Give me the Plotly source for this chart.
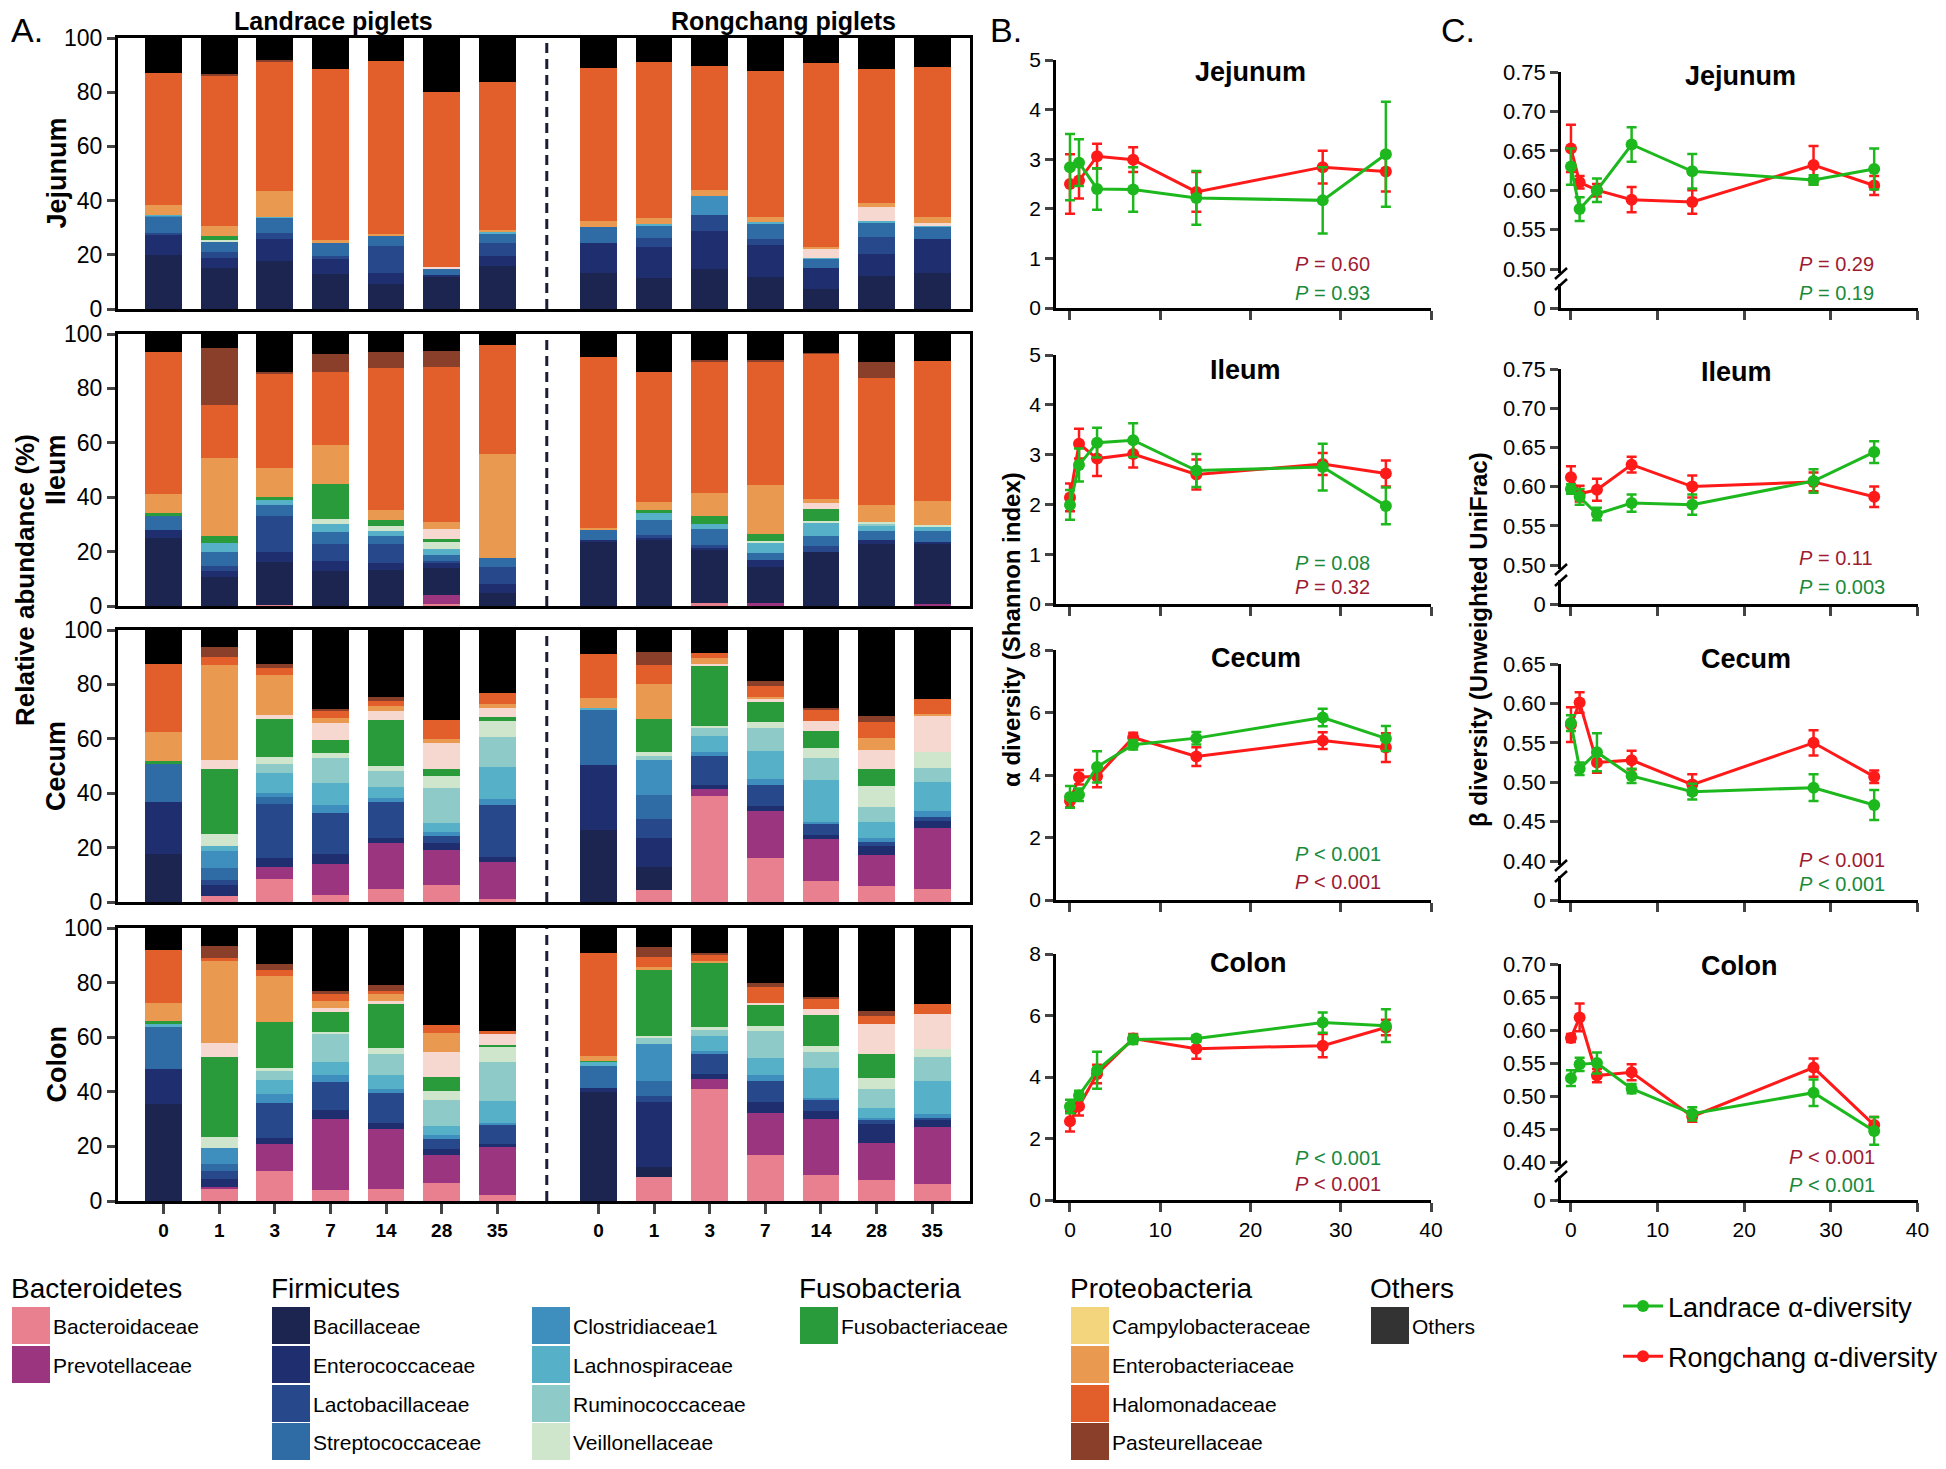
import plotly.graph_objects as go

W, H = 1946, 1469
OFF = 8  # the page body adds an 8 px margin round the figure
FONT = "Arial, Liberation Sans, sans-serif"

days = ["0", "1", "3", "7", "14", "28", "35"]
day_nums = [0, 1, 3, 7, 14, 28, 35]
organs = ["Jejunum", "Ileum", "Cecum", "Colon"]

families = ["Bacteroidaceae", "Prevotellaceae", "Bacillaceae", "Enterococcaceae",
            "Lactobacillaceae", "Streptococcaceae", "Clostridiaceae1", "Lachnospiraceae",
            "Ruminococcaceae", "Veillonellaceae", "Fusobacteriaceae", "Campylobacteraceae",
            "Enterobacteriaceae", "Halomonadaceae", "Pasteurellaceae", "Others"]
bar_colors = ["#E8808F", "#9B3580", "#1B2550", "#1F2E6E", "#27498C", "#2F6BA5",
              "#3E8FBE", "#55B0C8", "#8ECBC8", "#D0E6CC", "#2A9B3A", "#F6D8D0",
              "#E99A50", "#E25F2C", "#8A3F2A", "#000000"]
legend_colors = ["#E8808F", "#9B3580", "#1B2550", "#1F2E6E", "#27498C", "#2F6BA5",
                 "#3E8FBE", "#55B0C8", "#8ECBC8", "#D0E6CC", "#2A9B3A", "#F2D57C",
                 "#E99A50", "#E25F2C", "#8A3F2A", "#333333"]

# relative abundance (%), 7 Landrace days then 7 Rongchang days
jejunum = {
    "Bacteroidaceae": [0] * 14,
    "Prevotellaceae": [0] * 14,
    "Bacillaceae": [20, 15.3, 17.8, 12.9, 9.2, 11.9, 16, 13.4, 11.4, 14.9, 11.8, 7.4, 12.1, 13.4],
    "Enterococcaceae": [7.5, 3.7, 8, 5.5, 4.1, 0.7, 3.6, 11, 11.5, 13.8, 11.7, 7.7, 8.3, 12.3],
    "Lactobacillaceae": [0.5, 2.2, 2.1, 1.2, 10, 0, 4.6, 0, 3.3, 6, 2.5, 0, 6.2, 0],
    "Streptococcaceae": [6, 3.8, 5.9, 4.6, 3.7, 2.5, 3.4, 5.8, 4.5, 0, 5.7, 3.5, 5.3, 4.6],
    "Clostridiaceae1": [0.5, 0, 0, 0, 0, 0, 0, 0, 0, 7, 0, 0, 0, 0],
    "Lachnospiraceae": [0.3, 0, 0.3, 0, 0, 0, 0.9, 0, 0.7, 0, 0.5, 0.2, 0.5, 0.5],
    "Ruminococcaceae": [0] * 14,
    "Veillonellaceae": [0, 0.5, 0, 0, 0, 0, 0, 0, 0, 0, 0, 0, 0, 0],
    "Fusobacteriaceae": [0, 1.4, 0, 0, 0, 0, 0, 0, 0, 0, 0, 0, 0, 0],
    "Campylobacteraceae": [0, 0, 0, 0, 0, 0.5, 0, 0, 0, 0, 0, 3.2, 5.1, 1.0],
    "Enterobacteriaceae": [3.7, 3.7, 9.3, 1.1, 0.6, 0, 0.8, 2.2, 2.3, 2.2, 1.8, 0.9, 1.7, 2.1],
    "Halomonadaceae": [48.7, 55.7, 48.1, 63.4, 63.8, 64.6, 54.5, 56.7, 57.5, 45.8, 53.9, 67.7, 49.5, 55.5],
    "Pasteurellaceae": [0, 0.6, 0.4, 0, 0, 0, 0, 0, 0, 0, 0, 0, 0, 0],
    "Others": [12.8, 13.1, 8.1, 11.3, 8.6, 19.8, 16.2, 10.9, 8.8, 10.3, 12.1, 9.4, 11.3, 10.6],
}
ileum = {
    "Bacteroidaceae": [0, 0, 0.4, 0, 0, 0.7, 0, 0, 0, 1.1, 0, 0, 0, 0],
    "Prevotellaceae": [0, 0, 0, 0, 0, 3.4, 0, 0, 0, 0, 1.2, 0, 0, 0.9],
    "Bacillaceae": [25, 10.8, 15.6, 12.7, 13.3, 10.0, 4.7, 23.4, 24.5, 19.5, 13.3, 20.0, 22.9, 21.9],
    "Enterococcaceae": [3, 2.1, 3.7, 3.7, 2.4, 1.6, 3.4, 1.0, 0.5, 0.9, 2.4, 0, 1.2, 0.9],
    "Lactobacillaceae": [0, 1.9, 13.3, 6.5, 7.2, 1.0, 6.4, 0, 1.2, 1.0, 0, 1.9, 0, 0],
    "Streptococcaceae": [5.2, 5.0, 4.3, 4.3, 2.7, 2.1, 3.1, 3.7, 5.3, 5.8, 2.5, 3.7, 3.6, 3.7],
    "Clostridiaceae1": [0] * 14,
    "Lachnospiraceae": [0, 3.3, 1.8, 3.1, 1.8, 2.1, 0, 0, 2.7, 2.0, 4.0, 5.2, 1.6, 1.9],
    "Ruminococcaceae": [0, 0, 0, 0, 0, 0, 0, 0, 0, 0, 0, 0, 0.9, 0],
    "Veillonellaceae": [0, 0, 0, 1.7, 2.1, 2.6, 0, 0, 0, 0, 0.4, 0.6, 0.7, 0.6],
    "Fusobacteriaceae": [0.9, 2.5, 1.0, 12.7, 2.2, 1.2, 0, 0, 1.0, 2.7, 2.8, 4.1, 0, 0],
    "Campylobacteraceae": [0, 0, 0, 0, 0, 3.6, 0, 0, 0, 0, 0, 2.4, 0, 0],
    "Enterobacteriaceae": [7.2, 28.9, 10.5, 14.5, 3.7, 2.7, 38.2, 0.6, 3.0, 8.4, 18.0, 1.5, 6.2, 8.8],
    "Halomonadaceae": [52.2, 19.3, 34.6, 27, 52.1, 56.7, 40.1, 63.0, 48.0, 48.5, 45.4, 53.3, 46.9, 51.4],
    "Pasteurellaceae": [0, 21.0, 1.0, 6.4, 6.0, 5.9, 0, 0, 0, 0.6, 0.6, 0.5, 5.6, 0],
    "Others": [6.5, 5.2, 13.8, 7.4, 6.5, 6.4, 4.1, 8.3, 13.8, 9.5, 9.4, 6.8, 10.4, 9.9],
}
cecum = {
    "Bacteroidaceae": [0, 2.1, 8.5, 2.7, 4.6, 6.2, 1.1, 0, 4.3, 39.1, 16.3, 7.8, 6.0, 4.7],
    "Prevotellaceae": [0, 0, 4.4, 11.1, 17.0, 12.9, 13.6, 0, 0, 2.6, 17.2, 15.2, 11.1, 22.6],
    "Bacillaceae": [17.5, 0, 0, 0, 0, 0, 0, 26.5, 8.5, 0, 0, 0, 0, 0],
    "Enterococcaceae": [19.3, 4.3, 3.4, 3.7, 1.9, 2.7, 1.9, 23.8, 10.8, 1.2, 1.9, 1.6, 3.4, 2.3],
    "Lactobacillaceae": [0, 1.6, 19.7, 15.4, 13.3, 2.5, 19.0, 0, 6.8, 10.6, 7.6, 3.9, 1.6, 1.5],
    "Streptococcaceae": [14.3, 4.6, 2.7, 0, 0, 0, 0, 20.3, 8.9, 0, 0, 0, 0, 0],
    "Clostridiaceae1": [0, 6.1, 1.2, 2.7, 1.3, 1.6, 2.2, 0, 13.0, 1.8, 2.1, 0.8, 1.3, 2.2],
    "Lachnospiraceae": [0, 1.9, 7.5, 8.1, 4.0, 3.0, 12.0, 0.6, 0, 5.7, 10.6, 15.5, 5.9, 10.8],
    "Ruminococcaceae": [0, 0, 3.3, 9.3, 5.9, 13.0, 10.8, 0, 1.5, 3.0, 8.3, 8.0, 5.6, 5.3],
    "Veillonellaceae": [0, 4.3, 2.5, 1.8, 2.1, 4.3, 5.8, 0, 1.2, 0.7, 2.2, 3.7, 7.7, 5.9],
    "Fusobacteriaceae": [0.6, 24.0, 13.9, 4.6, 16.9, 2.7, 1.6, 0, 12.1, 22.4, 7.5, 6.4, 6.2, 0],
    "Campylobacteraceae": [0, 3.3, 1.7, 6.5, 3.1, 9.5, 3.3, 0, 0, 0.5, 0.8, 3.6, 7.2, 13.4],
    "Enterobacteriaceae": [10.7, 35.1, 14.6, 1.8, 1.8, 1.6, 1.4, 3.7, 13.1, 2.2, 1.0, 0, 4.4, 0.5],
    "Halomonadaceae": [25.0, 2.8, 2.7, 2.5, 2.0, 7.0, 4.3, 16.2, 6.9, 1.9, 3.8, 4.1, 5.8, 5.3],
    "Pasteurellaceae": [0, 3.5, 1.3, 0.9, 1.5, 0, 0, 0, 4.9, 0, 1.8, 0.9, 2.1, 0],
    "Others": [12.6, 6.4, 12.6, 28.9, 24.6, 33.0, 23.0, 8.9, 8.0, 8.3, 18.9, 28.5, 31.7, 25.5],
}
colon = {
    "Bacteroidaceae": [0, 4.3, 11.1, 4.1, 4.3, 6.5, 2.2, 0, 8.7, 41.2, 16.8, 9.7, 7.7, 6.2],
    "Prevotellaceae": [0, 1.0, 9.9, 25.9, 22.0, 10.3, 17.7, 0, 0, 3.5, 15.5, 20.4, 13.4, 20.8],
    "Bacillaceae": [35.5, 0, 0, 0, 0, 0, 0, 39.8, 3.7, 0, 0, 0, 0, 0],
    "Enterococcaceae": [13.0, 2.7, 2.2, 3.3, 2.4, 2.4, 1.1, 1.6, 23.9, 1.9, 4.1, 2.8, 7.1, 2.5],
    "Lactobacillaceae": [0, 2.9, 12.7, 10.2, 10.8, 3.4, 7.1, 0, 2.2, 7.2, 7.7, 4.4, 1.4, 0.9],
    "Streptococcaceae": [15.6, 2.8, 0, 0, 0, 0, 0, 8.0, 5.4, 0, 0, 0, 0, 0],
    "Clostridiaceae1": [0, 5.8, 3.3, 2.5, 1.6, 1.4, 0.6, 0, 13.5, 1.1, 1.9, 0.6, 0.8, 1.6],
    "Lachnospiraceae": [0.6, 0, 5.2, 4.9, 4.9, 3.3, 8.0, 1.7, 0, 5.6, 6.5, 10.8, 3.5, 11.9],
    "Ruminococcaceae": [0, 0, 3.3, 10.5, 7.8, 9.7, 14.2, 0, 2.2, 2.0, 9.6, 5.7, 7.1, 8.9],
    "Veillonellaceae": [0, 3.9, 1.0, 0.6, 2.3, 3.4, 5.8, 0, 1.0, 1.1, 2.0, 2.4, 4.1, 2.7],
    "Fusobacteriaceae": [1.3, 29.4, 17.0, 7.2, 16.0, 5.2, 0.4, 0.3, 24.1, 23.8, 7.6, 11.2, 8.6, 0],
    "Campylobacteraceae": [0, 5.1, 0, 1.5, 1.0, 8.8, 3.9, 0, 0, 0, 1.0, 2.4, 11.1, 13.1],
    "Enterobacteriaceae": [6.5, 30.0, 16.8, 2.7, 2.7, 7.3, 0, 1.8, 1.0, 0.4, 0, 0, 0, 0],
    "Halomonadaceae": [19.4, 1.2, 2.2, 2.4, 1.0, 2.8, 1.4, 37.7, 3.7, 2.3, 5.6, 3.8, 2.9, 3.7],
    "Pasteurellaceae": [0, 4.4, 2.0, 1.3, 2.5, 0, 0, 0, 3.6, 0.9, 1.5, 0.6, 1.9, 0],
    "Others": [8.1, 6.5, 13.3, 22.9, 20.7, 35.5, 37.6, 9.1, 7.0, 9.0, 20.2, 25.2, 30.4, 27.7],
}

# alpha diversity (Shannon), mean and error
alpha_jej_rc = [2.50, 2.57, 3.06, 2.99, 2.34, 2.84, 2.75]
alpha_jej_rc_err = [0.6, 0.36, 0.25, 0.25, 0.4, 0.33, 0.4]
alpha_jej_ld = [2.84, 2.93, 2.40, 2.39, 2.22, 2.17, 3.10]
alpha_jej_ld_err = [0.67, 0.47, 0.42, 0.45, 0.54, 0.67, 1.06]
alpha_ile_rc = [2.14, 3.22, 2.92, 3.01, 2.60, 2.81, 2.62]
alpha_ile_rc_err = [0.28, 0.3, 0.35, 0.27, 0.3, 0.22, 0.26]
alpha_ile_ld = [1.99, 2.79, 3.24, 3.29, 2.68, 2.75, 1.97]
alpha_ile_ld_err = [0.3, 0.33, 0.3, 0.34, 0.33, 0.47, 0.37]
alpha_cec_rc = [3.17, 3.93, 3.96, 5.2, 4.59, 5.10, 4.88]
alpha_cec_rc_err = [0.2, 0.23, 0.35, 0.15, 0.3, 0.27, 0.46]
alpha_cec_ld = [3.30, 3.37, 4.26, 4.97, 5.18, 5.84, 5.17]
alpha_cec_ld_err = [0.35, 0.2, 0.5, 0.15, 0.2, 0.28, 0.4]
alpha_col_rc = [2.56, 3.05, 4.10, 5.25, 4.92, 5.02, 5.61]
alpha_col_rc_err = [0.33, 0.3, 0.3, 0.15, 0.33, 0.38, 0.25]
alpha_col_ld = [3.04, 3.40, 4.22, 5.22, 5.25, 5.77, 5.67]
alpha_col_ld_err = [0.22, 0.15, 0.6, 0.15, 0.1, 0.33, 0.53]

# beta diversity (unweighted UniFrac)
beta_jej_rc = [0.653, 0.610, 0.600, 0.588, 0.585, 0.632, 0.606]
beta_jej_rc_err = [0.03, 0.008, 0.008, 0.016, 0.015, 0.024, 0.012]
beta_jej_ld = [0.630, 0.576, 0.600, 0.658, 0.624, 0.613, 0.627]
beta_jej_ld_err = [0.023, 0.015, 0.015, 0.022, 0.022, 0.006, 0.026]
beta_ile_rc = [0.612, 0.591, 0.596, 0.628, 0.600, 0.606, 0.587]
beta_ile_rc_err = [0.014, 0.01, 0.014, 0.01, 0.014, 0.012, 0.013]
beta_ile_ld = [0.597, 0.587, 0.565, 0.579, 0.577, 0.607, 0.644]
beta_ile_ld_err = [0.006, 0.01, 0.008, 0.011, 0.013, 0.015, 0.014]
beta_cec_rc = [0.573, 0.601, 0.525, 0.528, 0.497, 0.550, 0.507]
beta_cec_rc_err = [0.022, 0.013, 0.013, 0.012, 0.013, 0.016, 0.008]
beta_cec_ld = [0.575, 0.517, 0.538, 0.508, 0.488, 0.493, 0.471]
beta_cec_ld_err = [0.01, 0.008, 0.024, 0.009, 0.01, 0.017, 0.019]
beta_col_rc = [0.588, 0.619, 0.531, 0.536, 0.469, 0.543, 0.456]
beta_col_rc_err = [0.006, 0.021, 0.01, 0.012, 0.008, 0.014, 0.012]
beta_col_ld = [0.527, 0.548, 0.550, 0.511, 0.473, 0.505, 0.447]
beta_col_ld_err = [0.012, 0.01, 0.016, 0.007, 0.01, 0.02, 0.021]

alpha_p = [("<i>P</i> = 0.60", "<i>P</i> = 0.93"), ("<i>P</i> = 0.32", "<i>P</i> = 0.08"),
           ("<i>P</i> < 0.001", "<i>P</i> < 0.001"), ("<i>P</i> < 0.001", "<i>P</i> < 0.001")]
beta_p = [("<i>P</i> = 0.29", "<i>P</i> = 0.19"), ("<i>P</i> = 0.11", "<i>P</i> = 0.003"),
          ("<i>P</i> < 0.001", "<i>P</i> < 0.001"), ("<i>P</i> < 0.001", "<i>P</i> < 0.001")]

RED = "#FF1A1A"
GREEN = "#1DB81D"
P_RED = "#9E1B32"
P_GREEN = "#1A8A3A"

FW, FH = W - 2 * OFF, H - 2 * OFF


def fx(p):
    return (p - OFF) / FW


def fy(p):
    return 1 - (p - OFF) / FH


def ax(n):
    return "" if n == 1 else str(n)


fig = go.Figure()
layout = {}
shapes = []
annotations = []


def note(text, x, y, size, xanchor="center", color="black", angle=0):
    annotations.append(dict(text=text, x=fx(x), y=fy(y), xref="paper", yref="paper",
                            xanchor=xanchor, yanchor="middle", textangle=angle, showarrow=False,
                            font=dict(size=size, color=color)))


# ---------- panel A ----------
x_pos = [i for i in range(7)] + [7.82 + i for i in range(7)]
a_rows = [(38, 309), (334, 606), (630, 902), (928, 1201)]
organ_data = [jejunum, ileum, cecum, colon]
for r in range(4):
    n = r + 1
    data = organ_data[r]
    for fam, col in zip(families, bar_colors):
        fig.add_trace(go.Bar(x=x_pos, y=data[fam], name=fam, width=0.66,
                             marker=dict(color=col, line_width=0),
                             xaxis="x" + ax(n), yaxis="y" + ax(n), showlegend=False))
    top, bot = a_rows[r]
    last = r == 3
    layout["xaxis" + ax(n)] = dict(domain=[fx(118), fx(970)], anchor="y" + ax(n),
                                   range=[-0.82, 14.5], showline=True, linewidth=3, linecolor="black",
                                   mirror=True, showgrid=False, zeroline=False, automargin=False,
                                   tickvals=x_pos, ticktext=days * 2,
                                   showticklabels=last, ticks="outside" if last else "",
                                   ticklen=10, tickwidth=3,
                                   tickfont=dict(size=19, weight="bold", color="black"))
    layout["yaxis" + ax(n)] = dict(domain=[fy(bot), fy(top)], anchor="x" + ax(n),
                                   range=[0, 100], tickvals=[0, 20, 40, 60, 80, 100],
                                   showline=True, linewidth=3, linecolor="black", mirror=True,
                                   ticks="outside", ticklen=8, tickwidth=3, showgrid=False,
                                   zeroline=False, automargin=False, tickfont=dict(size=23, color="black"))
    shapes.append(dict(type="line", xref="x" + ax(n), yref="y" + ax(n), x0=6.89, x1=6.89, y0=0, y1=100,
                       line=dict(color="#1b1b3a", width=3, dash="10px,6px")))
    note("<b>%s</b>" % organs[r], 56, (top + bot) / 2, 27, angle=-90)

note("<b>Relative abundance (%)</b>", 25, 580, 26, angle=-90)
note("<b>Landrace piglets</b>", 333, 21, 25)
note("<b>Rongchang piglets</b>", 783, 21, 25)
note("A.", 27, 30, 34)
note("B.", 1006, 30, 34)
note("C.", 1458, 30, 34)


def add_pair(n, ld, ld_err, rc, rc_err, legend=False):
    fig.add_trace(go.Scatter(x=day_nums, y=rc, mode="lines+markers", name="Rongchang α-diversity",
                             line=dict(color=RED, width=3), marker=dict(size=12, color=RED),
                             error_y=dict(type="data", array=rc_err, color=RED, thickness=2.5, width=5),
                             xaxis="x" + ax(n), yaxis="y" + ax(n), showlegend=legend,
                             legendgroup="rc", legendrank=2))
    fig.add_trace(go.Scatter(x=day_nums, y=ld, mode="lines+markers", name="Landrace α-diversity",
                             line=dict(color=GREEN, width=3), marker=dict(size=12, color=GREEN),
                             error_y=dict(type="data", array=ld_err, color=GREEN, thickness=2.5, width=5),
                             xaxis="x" + ax(n), yaxis="y" + ax(n), showlegend=legend,
                             legendgroup="ld", legendrank=1))


# ---------- panel B ----------
b_rows = [(60, 308, 5, 1), (355, 604, 5, 1), (650, 900, 8, 2), (954, 1200, 8, 2)]
b_series = [(alpha_jej_ld, alpha_jej_ld_err, alpha_jej_rc, alpha_jej_rc_err),
            (alpha_ile_ld, alpha_ile_ld_err, alpha_ile_rc, alpha_ile_rc_err),
            (alpha_cec_ld, alpha_cec_ld_err, alpha_cec_rc, alpha_cec_rc_err),
            (alpha_col_ld, alpha_col_ld_err, alpha_col_rc, alpha_col_rc_err)]
b_title_x = [1250, 1245, 1256, 1248]
b_title_y = [72, 370, 658, 963]
b_p_y = [(264, 293), (587, 563), (882, 854), (1184, 1158)]
for r in range(4):
    n = 5 + r
    top, bot, ymax, dt = b_rows[r]
    add_pair(n, *b_series[r], legend=(r == 0))
    last = r == 3
    layout["xaxis" + ax(n)] = dict(domain=[fx(1056), fx(1431)], anchor="y" + ax(n), range=[-1.55, 40],
                                   tickvals=[0, 10, 20, 30, 40], showline=True, linewidth=2.5,
                                   linecolor="black", ticks="outside", ticklen=9, tickwidth=2.5,
                                   showticklabels=last, showgrid=False, zeroline=False, automargin=False,
                                   tickfont=dict(size=21, color="black"))
    layout["yaxis" + ax(n)] = dict(domain=[fy(bot), fy(top)], anchor="x" + ax(n), range=[0, ymax],
                                   dtick=dt, showline=True, linewidth=2.5, linecolor="black",
                                   ticks="outside", ticklen=8, tickwidth=2.5, showgrid=False,
                                   zeroline=False, automargin=False, tickfont=dict(size=21, color="black"))
    note("<b>%s</b>" % organs[r], b_title_x[r], b_title_y[r], 27)
    red_txt, green_txt = alpha_p[r]
    note(red_txt, 1293, b_p_y[r][0], 20, xanchor="left", color=P_RED)
    note(green_txt, 1293, b_p_y[r][1], 20, xanchor="left", color=P_GREEN)

note("<b>α diversity (Shannon index)</b>", 1012, 630, 24, angle=-90)

# ---------- panel C (broken y axis) ----------
c_rows = [(0.75, 72, 0.50, 269, 308), (0.75, 369, 0.50, 565, 604),
          (0.65, 664, 0.40, 861, 900), (0.70, 964, 0.40, 1162, 1200)]
c_series = [(beta_jej_ld, beta_jej_ld_err, beta_jej_rc, beta_jej_rc_err),
            (beta_ile_ld, beta_ile_ld_err, beta_ile_rc, beta_ile_rc_err),
            (beta_cec_ld, beta_cec_ld_err, beta_cec_rc, beta_cec_rc_err),
            (beta_col_ld, beta_col_ld_err, beta_col_rc, beta_col_rc_err)]
c_title_x = [1740, 1736, 1746, 1739]
c_title_y = [76, 372, 659, 966]
c_p_y = [(264, 293), (558, 587), (860, 884), (1157, 1185)]
c_p_x = [1797, 1797, 1797, 1787]
CX0 = 1561
for r in range(4):
    n = 9 + r
    m = 13 + r
    tv, tp, bv, bp, zp = c_rows[r]
    scale = (bp - tp) / (tv - bv)
    ub = bp + 4
    lt = zp - 24
    add_pair(n, *c_series[r])
    # invisible trace so that the lower (zero) part of the broken axis is drawn
    fig.add_trace(go.Scatter(x=[0], y=[0], mode="markers", marker=dict(opacity=0), hoverinfo="skip",
                             xaxis="x" + ax(n), yaxis="y" + ax(m), showlegend=False))
    last = r == 3
    layout["xaxis" + ax(n)] = dict(domain=[fx(CX0), fx(1917.5)], anchor="y" + ax(m), range=[-1.15, 40],
                                   tickvals=[0, 10, 20, 30, 40], showline=True, linewidth=2.5,
                                   linecolor="black", ticks="outside", ticklen=9, tickwidth=2.5,
                                   showticklabels=last, showgrid=False, zeroline=False, automargin=False,
                                   tickfont=dict(size=21, color="black"))
    layout["yaxis" + ax(n)] = dict(domain=[fy(ub), fy(tp)], anchor="x" + ax(n),
                                   range=[bv - 4 / scale, tv], tick0=bv, dtick=0.05, tickformat=".2f",
                                   showline=True, linewidth=2.5, linecolor="black", ticks="outside",
                                   ticklen=8, tickwidth=2.5, showgrid=False, zeroline=False, automargin=False,
                                   tickfont=dict(size=22, color="black"))
    layout["yaxis" + ax(m)] = dict(domain=[fy(zp), fy(lt)], anchor="x" + ax(n), range=[0, 1],
                                   tickvals=[0], showline=True, linewidth=2.5, linecolor="black",
                                   ticks="outside", ticklen=8, tickwidth=2.5, showgrid=False,
                                   zeroline=False, automargin=False, tickfont=dict(size=22, color="black"))
    for yb in (ub, lt):
        shapes.append(dict(type="line", xref="paper", yref="paper", x0=fx(CX0 - 6), y0=fy(yb + 6),
                           x1=fx(CX0 + 6), y1=fy(yb - 5), line=dict(color="black", width=2.5)))
    note("<b>%s</b>" % organs[r], c_title_x[r], c_title_y[r], 27)
    red_txt, green_txt = beta_p[r]
    note(red_txt, c_p_x[r], c_p_y[r][0], 20, xanchor="left", color=P_RED)
    note(green_txt, c_p_x[r], c_p_y[r][1], 20, xanchor="left", color=P_GREEN)

note("<b>β diversity (Unweighted UniFrac)</b>", 1478, 640, 24, angle=-90)

# ---------- family legend ----------
legend_groups = [
    ("Bacteroidetes", 12, [["Bacteroidaceae", "Prevotellaceae"]]),
    ("Firmicutes", 272, [["Bacillaceae", "Enterococcaceae", "Lactobacillaceae", "Streptococcaceae"],
                         ["Clostridiaceae1", "Lachnospiraceae", "Ruminococcaceae", "Veillonellaceae"]]),
    ("Fusobacteria", 800, [["Fusobacteriaceae"]]),
    ("Proteobacteria", 1071, [["Campylobacteraceae", "Enterobacteriaceae", "Halomonadaceae",
                               "Pasteurellaceae"]]),
    ("Others", 1371, [["Others"]]),
]
row_tops = [1307, 1346, 1385, 1423]
for title, gx, cols in legend_groups:
    note(title, gx - 3, 1288, 28, xanchor="left")
    for ci, col_items in enumerate(cols):
        cx = gx + ci * 260
        for ri, fam in enumerate(col_items):
            t = row_tops[ri]
            shapes.append(dict(type="rect", xref="paper", yref="paper", x0=fx(cx), x1=fx(cx + 38),
                               y0=fy(t + 37), y1=fy(t), line_width=0,
                               fillcolor=legend_colors[families.index(fam)]))
            note(fam, cx + 39, t + 19, 21, xanchor="left")

fig.update_layout(**layout)
fig.update_layout(
    width=FW, height=FH, margin=dict(l=0, r=0, t=0, b=0, autoexpand=False),
    paper_bgcolor="white", plot_bgcolor="white", barmode="stack",
    font=dict(family=FONT, color="black"),
    shapes=shapes, annotations=annotations,
    showlegend=True,
    legend=dict(x=fx(1618), y=fy(1282), xanchor="left", yanchor="top", font=dict(size=27),
                tracegroupgap=12, bgcolor="rgba(0,0,0,0)", itemwidth=40),
)
fig.write_html("out.html")
